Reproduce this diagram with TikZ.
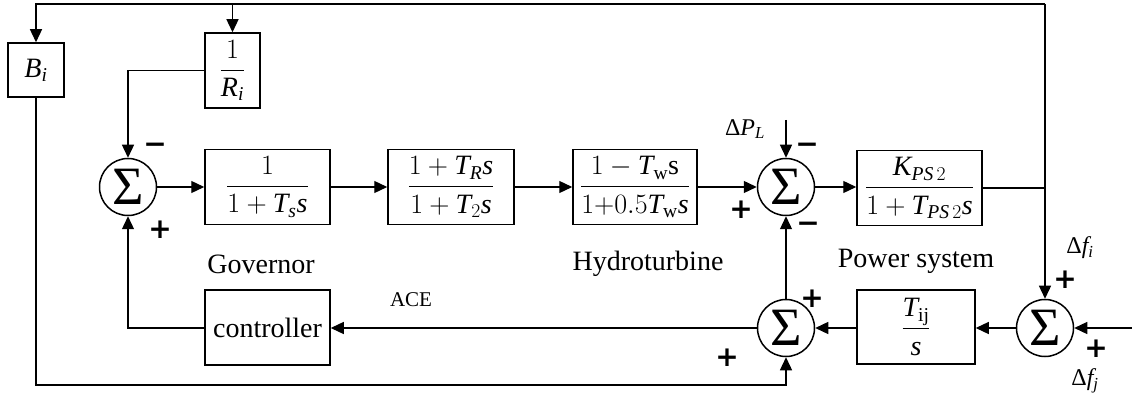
\documentclass[tikz,border=0pt]{standalone}
\usepackage{fix-cm}
\usepackage{amsmath}
\usepackage{fontspec}
\setmainfont{Liberation Serif}
\newfontfamily\signfont{DejaVu Sans}
\usetikzlibrary{arrows.meta}
\tikzset{
  blk/.style={draw, line width=1.5pt, minimum width=125pt, minimum height=75pt, inner sep=0pt},
  sumc/.style={circle, draw, line width=1.5pt, minimum size=57pt, inner sep=0pt, font=\fontsize{54}{54}\selectfont},
  ln/.style={line width=1.3pt},
  conn/.style={line width=1.3pt, -{Triangle[length=13pt,width=12pt]}},
  sgn/.style={inner sep=0pt, font=\signfont\bfseries\fontsize{28}{28}\selectfont},
  lbl/.style={inner sep=0pt},
  small/.style={inner sep=0pt, font=\fontsize{24}{28}\selectfont}
}
\begin{document}
\begin{tikzpicture}[x=1pt, y=-1pt, font=\fontsize{28}{34}\selectfont]
\useasboundingbox (0,0) rectangle (1132,403);
% blocks
\node[blk, minimum width=56pt, minimum height=54pt] (Bi) at (36,70) {$\mathit{B}_{\mathit{i}}$};
\node[blk, minimum width=55pt, minimum height=75pt] (Ri) at (232.5,70.5) {$\displaystyle\frac{1}{\mathit{R}_{\mathit{i}}}$};
\node[sumc] (s1) at (128,187) {Σ};
\node[blk] (g1) at (267.5,187) {$\displaystyle\frac{1}{1+\mathit{T}_{\mathit{s}}\mathit{s}}$};
\node[blk, minimum width=126pt] (g2) at (451,187) {$\displaystyle\frac{1+\mathit{T}_{\mathit{R}}\mathit{s}}{1+\mathit{T}_{2}\mathit{s}}$};
\node[blk, minimum width=124pt] (g3) at (635,187) {$\displaystyle\frac{1-\mathit{T}_{\mathrm{w}}\mathrm{s}}{1{+}0.5\mathit{T}_{\mathrm{w}}\mathit{s}}$};
\node[sumc] (s2) at (786,187) {Σ};
\node[blk] (g4) at (919.5,188) {$\displaystyle\frac{\mathit{K}_{\mathit{PS}\,2}}{1+\mathit{T}_{\mathit{PS}\,2}\mathit{s}}$};
\node[sumc] (s4) at (1045,328) {Σ};
\node[blk, minimum width=118pt, minimum height=74pt] (g5) at (916,327) {$\displaystyle\frac{\mathit{T}_{\mathrm{ij}}}{\mathit{s}}$};
\node[sumc] (s3) at (786,328) {Σ};
\node[blk, minimum height=75pt] (ctrl) at (267.5,327.5) {controller};
% helper coordinates
\coordinate (tl) at (36,4);
\coordinate (tr) at (1045,4);
\coordinate (tRi) at (232.5,4);
\coordinate (jR) at (1045,188);
\coordinate (bl) at (36,385);
\coordinate (inR) at (1132,328);
\coordinate (dPL) at (786,120);
% connectors
\draw[ln] (g4.east) -- (jR);
\draw[conn] (tr) -- (s4.north);
\draw[conn] (tr) -- (tl) -- (Bi.north);
\draw[conn] (tRi) -- (Ri.north);
\draw[conn] (Ri.west) -- (Ri.west -| s1) -- (s1.north);
\draw[conn] (s1.east) -- (g1.west);
\draw[conn] (g1.east) -- (g2.west);
\draw[conn] (g2.east) -- (g3.west);
\draw[conn] (g3.east) -- (s2.west);
\draw[conn] (s2.east) -- (s2.east -| g4.west);
\draw[conn] (dPL) -- (s2.north);
\draw[conn] (s4.west) -- (s4.west -| g5.east);
\draw[conn] (g5.west |- s3) -- (s3.east);
\draw[conn] (s3.west) -- (s3.west -| ctrl.east);
\draw[conn] (ctrl.west |- s3) -- (s1 |- s3) -- (s1.south);
\draw[conn] (s3.north) -- (s2.south);
\draw[conn] (Bi.south) -- (bl) -- (bl -| s3) -- (s3.south);
\draw[conn] (inR) -- (s4.east);
% labels
\node[small] (dpl) at (745,129) {Δ$\mathit{P}_{\mathit{L}}$};
\node[small] (dfi) at (1080,248) {Δ$\mathit{f}_{\mathit{i}}$};
\node[small] (dfj) at (1085,381) {Δ$\mathit{f}_{\mathit{j}}$};
\node[lbl] (gov) at (261,264) {Governor};
\node[lbl] (hyd) at (648,264) {Hydroturbine};
\node[lbl] (pow) at (916,261) {Power system};
\node[lbl, font=\fontsize{21}{24}\selectfont] (ace) at (411,300) {ACE};
% signs
\node[sgn] (m1) at (155,148) {−};
\node[sgn] (p1) at (160,230) {+};
\node[sgn] (m2a) at (807,148) {−};
\node[sgn] (p2) at (741,210) {+};
\node[sgn] (m2b) at (808,227) {−};
\node[sgn] (p3a) at (812,299) {+};
\node[sgn] (p3b) at (727,358) {+};
\node[sgn] (p4a) at (1065,280) {+};
\node[sgn] (p4b) at (1096,349) {+};
\end{tikzpicture}
\end{document}
